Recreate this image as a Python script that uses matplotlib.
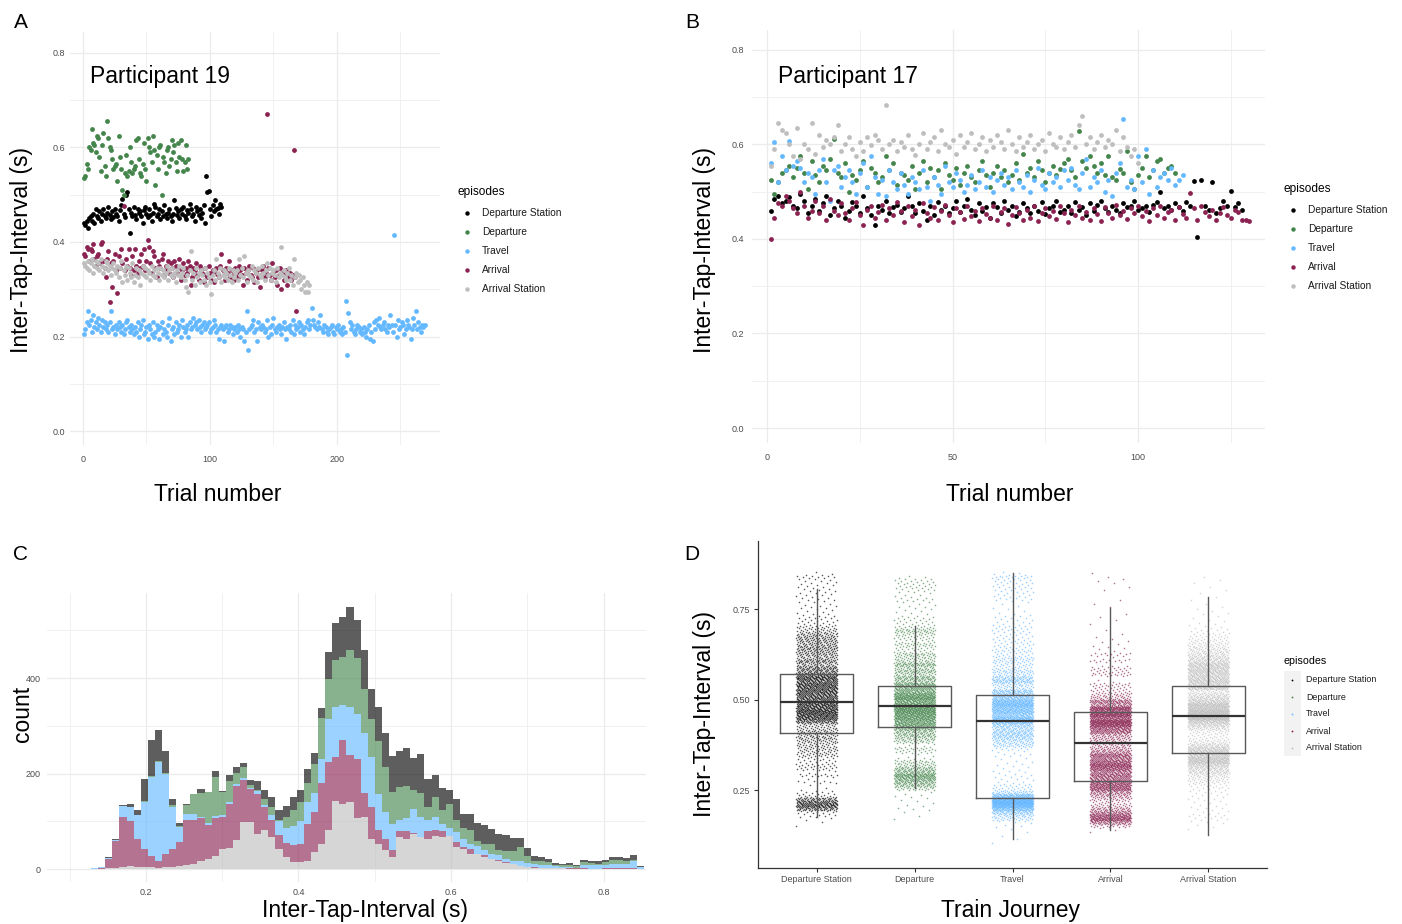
import numpy as np
import matplotlib
matplotlib.use('Agg')
import matplotlib.pyplot as plt
from matplotlib.lines import Line2D
from matplotlib.patches import Rectangle

plt.rcParams['font.family'] = ['Liberation Sans', 'DejaVu Sans']

episodes = ['Departure Station', 'Departure', 'Travel', 'Arrival', 'Arrival Station']
colors = ['#000000', '#43854B', '#63B8FF', '#8B2252', '#BEBEBE']

# ---- panel A: participant 19, inter-tap interval (ms) for trials 1..n
p19_dep_station = [440, 435, 445, 430, 450, 455, 445, 460, 440, 470, 455, 450, 465, 445, 460, 470, 455, 450, 462, 475,
                   458, 448, 466, 452, 470, 460, 455, 445, 468, 478, 490, 460, 452, 500, 505, 470, 420, 462, 455, 475,
                   458, 448, 470, 462, 465, 455, 440, 468, 475, 460, 452, 470, 458, 445, 462, 480, 475, 455, 460, 470,
                   448, 465, 455, 478, 460, 450, 462, 470, 455, 445, 460, 488, 472, 458, 465, 450, 470, 460, 475, 455,
                   448, 468, 462, 480, 470, 455, 460, 445, 475, 465, 458, 470, 450, 462, 478, 440, 540, 505, 508, 470,
                   455, 478, 465, 488, 470, 472, 460, 480, 475]
p19_departure = [535, 540, 565, 555, 600, 595, 640, 610, 605, 590, 625, 620, 580, 550, 605, 630, 560, 540, 655, 620,
                 600, 595, 575, 555, 560, 565, 530, 625, 580, 555, 510, 500, 545, 585, 540, 550, 600, 570, 545, 555,
                 560, 615, 620, 575, 545, 540, 565, 610, 555, 530, 620, 600, 590, 570, 625, 595, 520, 585, 555, 600,
                 605, 500, 580, 570, 545, 595, 600, 560, 575, 615, 590, 605, 570, 550, 610, 580, 615, 575, 550, 570,
                 605, 555, 575]
p19_travel = [205, 215, 230, 255, 225, 235, 210, 245, 220, 230, 215, 240, 225, 210, 235, 220, 230, 215, 225, 210,
              230, 255, 215, 220, 205, 225, 215, 230, 220, 210, 225, 205, 215, 230, 235, 220, 210, 225, 215, 205,
              220, 210, 230, 200, 215, 225, 235, 205, 210, 220, 195, 225, 215, 205, 230, 200, 210, 225, 215, 195,
              220, 230, 205, 215, 210, 200, 225, 240, 190, 215, 220, 205, 230, 210, 215, 225, 200, 235, 220, 210,
              215, 225, 200, 230, 215, 220, 240, 225, 230, 215, 235, 220, 210, 225, 230, 215, 220, 225, 230, 210,
              215, 220, 235, 225, 210, 215, 195, 220, 225, 215, 190, 220, 225, 210, 215, 225, 220, 205, 215, 220,
              210, 225, 215, 200, 220, 215, 190, 210, 255, 172, 215, 220, 225, 235, 210, 215, 190, 230, 220, 215,
              225, 220, 210, 215, 235, 200, 220, 205, 225, 240, 215, 210, 220, 225, 215, 205, 220, 230, 215, 195,
              220, 215, 225, 210, 235, 205, 225, 215, 220, 230, 210, 225, 215, 205, 220, 230, 235, 215, 225, 260,
              235, 225, 220, 215, 230, 220, 245, 215, 210, 225, 220, 210, 205, 215, 220, 225, 210, 205, 220, 215,
              225, 210, 215, 205, 220, 210, 275, 160, 250, 230, 215, 225, 210, 205, 215, 225, 220, 210, 215, 205,
              220, 210, 200, 215, 225, 195, 210, 190, 230, 215, 235, 225, 240, 220, 215, 225, 230, 215, 210, 225,
              220, 245, 225, 210, 415, 225, 200, 235, 215, 220, 230, 225, 205, 215, 235, 225, 220, 195, 215, 240,
              225, 255, 215, 230, 220, 210, 225, 220, 225]
p19_arrival = [375, 370, 390, 385, 360, 385, 380, 395, 365, 350, 370, 375, 355, 395, 400, 360, 345, 325, 365, 380,
               272, 355, 305, 360, 375, 340, 293, 370, 345, 385, 355, 476, 340, 365, 350, 385, 345, 330, 370, 340,
               385, 350, 335, 360, 345, 375, 350, 385, 340, 360, 405, 390, 355, 335, 380, 370, 345, 325, 360, 350,
               345, 365, 375, 330, 350, 340, 360, 335, 355, 345, 325, 360, 350, 335, 345, 365, 320, 340, 355, 330,
               345, 335, 360, 350, 310, 325, 345, 340, 355, 330, 320, 350, 340, 335, 315, 345, 330, 325, 350, 335,
               320, 340, 315, 335, 345, 330, 325, 350, 375, 340, 330, 320, 345, 335, 360, 325, 340, 330, 320, 345,
               335, 325, 350, 340, 330, 310, 345, 335, 320, 340, 350, 330, 325, 345, 315, 335, 340, 325, 305, 330,
               340, 350, 325, 335, 671, 345, 330, 320, 355, 335, 325, 340, 310, 330, 345, 300, 335, 320, 330, 340,
               310, 325, 335, 320, 330, 595, 325, 254]
p19_arr_station = [355, 350, 345, 360, 340, 355, 365, 335, 350, 360, 345, 355, 340, 365, 350, 335, 345, 360, 355, 340,
                   350, 330, 345, 355, 340, 335, 350, 325, 345, 360, 315, 340, 330, 350, 320, 345, 335, 325, 355, 315,
                   330, 345, 325, 340, 310, 335, 350, 330, 345, 325, 340, 335, 320, 350, 330, 340, 325, 345, 335, 320,
                   345, 330, 340, 325, 335, 350, 320, 340, 330, 345, 325, 335, 315, 340, 330, 350, 325, 335, 345, 320,
                   305, 330, 295, 340, 380, 320, 335, 310, 345, 325, 335, 315, 340, 330, 320, 345, 310, 335, 325, 315,
                   290, 330, 340, 320, 365, 335, 325, 345, 315, 330, 340, 325, 335, 320, 345, 330, 315, 340, 325, 335,
                   340, 320, 365, 330, 345, 325, 370, 335, 315, 340, 330, 325, 350, 320, 340, 335, 315, 345, 330, 325,
                   350, 335, 320, 340, 355, 330, 345, 320, 335, 340, 330, 315, 345, 325, 335, 390, 330, 340, 325, 320,
                   335, 345, 320, 330, 310, 365, 325, 335, 315, 330, 320, 300, 325, 310, 295, 315, 295, 310]

# ---- panel B: participant 17
p17_dep_station = [460, 485, 490, 475, 480, 488, 470, 465, 495, 480, 455, 470, 485, 460, 475, 490, 450, 465, 480, 470,
                   445, 460, 478, 470, 455, 490, 465, 450, 430, 470, 462, 480, 455, 468, 472, 458, 465, 490, 470, 455,
                   475, 460, 440, 470, 450, 478, 462, 470, 455, 465, 480, 458, 470, 485, 462, 450, 475, 460, 468, 445,
                   475, 468, 455, 480, 462, 470, 448, 458, 475, 465, 455, 470, 460, 478, 452, 465, 470, 480, 458, 462,
                   470, 455, 478, 462, 468, 450, 475, 460, 472, 480, 465, 458, 470, 462, 455, 475, 468, 470, 480, 462,
                   465, 470, 458, 472, 478, 500, 465, 470, 462, 475, 468, 460, 478, 470, 522, 405, 525, 470, 462, 520,
                   455, 465, 480, 470, 502, 468, 475, 462]
p17_departure = [525, 495, 520, 540, 545, 555, 530, 550, 575, 540, 505, 565, 535, 520, 555, 545, 570, 612, 540, 530,
                 560, 500, 535, 525, 545, 565, 510, 550, 540, 520, 530, 575, 545, 560, 515, 540, 535, 525, 555, 505,
                 540, 565, 520, 550, 530, 545, 505, 560, 535, 525, 550, 515, 540, 555, 530, 520, 545, 565, 535, 510,
                 540, 555, 530, 545, 520, 535, 560, 525, 580, 540, 550, 530, 565, 545, 520, 540, 555, 535, 548, 560,
                 570, 545, 530, 628, 565, 550, 575, 555, 540, 560, 535, 575, 530, 525, 548, 540, 585, 520, 505, 535,
                 550, 575, 530, 545, 565, 570, 540, 550, 555, 540]
p17_travel = [560, 605, 520, 575, 545, 608, 555, 565, 550, 520, 540, 530, 495, 545, 570, 520, 480, 545, 555, 510,
              530, 545, 520, 495, 540, 560, 510, 575, 530, 495, 525, 490, 545, 520, 505, 540, 515, 495, 530, 520,
              505, 545, 510, 480, 530, 515, 495, 555, 520, 510, 540, 525, 500, 515, 535, 505, 520, 545, 510, 530,
              500, 525, 540, 515, 530, 505, 545, 520, 510, 535, 500, 525, 550, 515, 505, 540, 520, 530, 510, 545,
              525, 550, 515, 505, 540, 570, 510, 530, 520, 545, 500, 525, 490, 540, 560, 654, 510, 525, 505, 575,
              520, 590, 495, 545, 510, 530, 540, 525, 550, 515, 525, 535]
p17_arrival = [400, 445, 475, 470, 490, 480, 465, 455, 500, 470, 445, 460, 480, 455, 470, 440, 485, 460, 450, 475,
               455, 440, 465, 478, 450, 430, 462, 470, 445, 458, 472, 440, 465, 450, 478, 460, 435, 470, 448, 462,
               430, 475, 455, 445, 468, 440, 460, 472, 450, 435, 465, 458, 442, 470, 448, 460, 438, 465, 452, 445,
               470, 440, 458, 465, 432, 450, 468, 455, 440, 462, 445, 470, 438, 455, 465, 448, 460, 442, 470, 455,
               435, 462, 450, 470, 445, 458, 440, 465, 452, 438, 468, 455, 445, 472, 450, 460, 442, 465, 455, 470,
               448, 460, 438, 465, 450, 470, 445, 458, 462, 440, 468, 452, 445, 498, 465, 440, 470, 458, 448, 462,
               440, 455, 468, 450, 445, 462, 458, 440, 440, 438]
p17_arr_station = [555, 590, 645, 630, 625, 600, 575, 635, 570, 600, 590, 645, 580, 620, 595, 610, 600, 615, 640, 585,
                   600, 615, 590, 575, 605, 585, 615, 598, 620, 610, 590, 683, 600, 610, 585, 605, 595, 620, 590, 578,
                   600, 625, 590, 605, 615, 585, 630, 600, 595, 610, 580, 620, 595, 605, 625, 590, 600, 615, 585, 610,
                   595, 620, 605, 590, 630, 600, 585, 615, 595, 605, 620, 590, 600, 610, 585, 625, 600, 595, 615, 590,
                   605, 620, 595, 640, 660, 600, 615, 590, 605, 620, 595, 610, 600, 630, 585, 615, 595, 575, 590, 560]

# ---- panel C: histogram counts per bin (all participants)
bin_start = 0.1002
bin_width = 0.0093
hist_dep_station = [0, 0, 0, 0, 0, 1, 1, 2, 7, 10, 46, 76, 65, 45, 12, 7, 2, 1, 7, 1,
                    12, 2, 14, 13, 8, 10, 19, 19, 21, 20, 24, 28, 25, 29, 23, 21, 58, 79, 84, 91,
                    80, 80, 63, 72, 71, 76, 75, 79, 67, 83, 59, 46, 47, 29, 44, 28, 34, 37, 39, 31,
                    35, 35, 29, 20, 17, 9, 8, 7, 5, 3, 5, 3, 5, 5, 5, 5, 5, 5, 5, 10, 2]
hist_departure = [0, 0, 0, 0, 0, 0, 0, 1, 1, 1, 3, 2, 2, 2, 4, 1, 20, 42, 50, 64,
                  81, 48, 44, 23, 24, 6, 2, 13, 17, 3, 24, 33, 40, 41, 61, 87, 82, 97, 101, 118,
                  117, 94, 80, 110, 94, 66, 70, 69, 39, 50, 28, 41, 28, 50, 25, 23, 28, 11, 14, 20,
                  10, 15, 19, 30, 14, 8, 9, 7, 2, 4, 4, 3, 7, 5, 3, 7, 10, 9, 8, 3, 0]
hist_travel = [1, 1, 1, 1, 1, 3, 3, 22, 29, 51, 97, 165, 206, 169, 87, 32, 13, 12, 4, 5,
               5, 4, 3, 3, 3, 2, 5, 4, 11, 29, 30, 40, 48, 45, 40, 50, 91, 105, 72, 102,
               93, 124, 105, 76, 56, 56, 22, 26, 50, 42, 22, 27, 15, 17, 21, 18, 10, 16, 10, 10,
               9, 8, 7, 9, 9, 6, 5, 5, 3, 2, 2, 1, 6, 7, 7, 6, 8, 9, 7, 15, 3]
hist_arrival = [0, 0, 0, 1, 2, 19, 55, 105, 93, 58, 39, 24, 15, 26, 38, 51, 94, 92, 88, 70,
                79, 67, 92, 115, 89, 69, 84, 49, 35, 28, 30, 35, 37, 77, 84, 127, 143, 93, 134, 98,
                123, 50, 66, 29, 25, 14, 13, 16, 2, 0, 16, 12, 13, 0, 11, 3, 11, 1, 4, 1,
                3, 1, 1, 1, 0, 1, 1, 1, 1, 0, 1, 1, 1, 0, 0, 1, 1, 1, 2, 1, 1]
hist_arr_station = [0, 0, 0, 0, 1, 2, 3, 5, 7, 4, 4, 4, 3, 5, 5, 6, 8, 11, 18, 22,
                    28, 42, 45, 60, 98, 99, 74, 81, 67, 43, 25, 15, 15, 18, 36, 53, 81, 142, 137, 140,
                    108, 110, 64, 53, 39, 25, 67, 64, 74, 67, 64, 70, 67, 70, 46, 43, 32, 31, 25, 21,
                    17, 13, 10, 6, 4, 3, 2, 2, 2, 2, 1, 1, 1, 1, 1, 1, 1, 1, 1, 1, 0]

# ---- panel D: boxplot statistics per episode (s)
box_q1 = [0.408, 0.424, 0.228, 0.275, 0.352]
box_med = [0.493, 0.482, 0.441, 0.380, 0.454]
box_q3 = [0.570, 0.537, 0.512, 0.465, 0.537]
box_lo = [0.175, 0.255, 0.115, 0.140, 0.125]
box_hi = [0.805, 0.703, 0.850, 0.752, 0.783]

W, H = 1402, 924
fig = plt.figure(figsize=(W / 100, H / 100), dpi=100)


def rect(l, t, r, b):
    return [l / W, 1 - b / H, (r - l) / W, (b - t) / H]


def ftext(x, y, s, **kw):
    fig.text(x / W, 1 - y / H, s, **kw)


def minimal(ax, xmaj, xmin, ymaj, ymin, xfmt, yfmt, xpad, ypad):
    for s in ax.spines.values():
        s.set_visible(False)
    ax.set_xticks(xmaj)
    ax.set_xticks(xmin, minor=True)
    ax.set_yticks(ymaj)
    ax.set_yticks(ymin, minor=True)
    ax.set_xticklabels([xfmt(v) for v in xmaj])
    ax.set_yticklabels([yfmt(v) for v in ymaj])
    ax.grid(which='major', color='#EBEBEB', lw=0.9)
    ax.grid(which='minor', color='#F0F0F0', lw=0.7)
    ax.tick_params(which='both', length=0, labelsize=6.5, labelcolor='#4D4D4D')
    ax.tick_params(axis='x', pad=xpad)
    ax.tick_params(axis='y', pad=ypad)
    ax.set_axisbelow(True)


def scatter_legend(xt, yt, xm, xl, ys, ms, tsize, lsize):
    ftext(xt, yt, 'episodes', fontsize=tsize, va='center', ha='left')
    for ep, c, y in zip(episodes, colors, ys):
        fig.add_artist(Line2D([xm / W], [1 - y / H], marker='o', ms=ms, mew=0, color=c,
                              linestyle='none', transform=fig.transFigure))
        ftext(xl, y, ep, fontsize=lsize, va='center', ha='left', color='#1A1A1A')


# ---------------- A
axa = fig.add_axes(rect(70, 32, 440, 445))
seriesA = [p19_dep_station, p19_departure, p19_travel, p19_arrival, p19_arr_station]
for vals, c in zip(seriesA, colors):
    v = np.array(vals) / 1000
    axa.scatter(np.arange(1, len(v) + 1), v, s=12, color=c, linewidths=0, zorder=3)
axa.set_xlim(-10.2, 281.1)
axa.set_ylim(-0.0296, 0.8444)
minimal(axa, [0, 100, 200], [50, 150, 250], [0, 0.2, 0.4, 0.6, 0.8], [0.1, 0.3, 0.5, 0.7],
        lambda v: '%d' % v, lambda v: '%.1f' % v, 7, 3.6)
ftext(90, 77, 'Participant 19', fontsize=16.5, va='center', ha='left')
ftext(218, 494, 'Trial number', fontsize=16.5, va='center', ha='center')
ftext(22, 250, 'Inter-Tap-Interval (s)', fontsize=16.5, va='center', ha='center', rotation=90)
ftext(21, 22, 'A', fontsize=15, va='center', ha='center')
scatter_legend(458, 192, 467, 482, [213, 232, 251, 270, 289], 3.2, 8.6, 7.3)

# ---------------- B
axb = fig.add_axes(rect(752, 30, 1265, 443))
seriesB = [p17_dep_station, p17_departure, p17_travel, p17_arrival, p17_arr_station]
for vals, c in zip(seriesB, colors):
    v = np.array(vals) / 1000
    axb.scatter(np.arange(1, len(v) + 1), v, s=12, color=c, linewidths=0, zorder=3)
axb.set_xlim(-4.04, 134.2)
axb.set_ylim(-0.0317, 0.842)
minimal(axb, [0, 50, 100], [25, 75, 125], [0, 0.2, 0.4, 0.6, 0.8], [0.1, 0.3, 0.5, 0.7],
        lambda v: '%d' % v, lambda v: '%.1f' % v, 7, 5.5)
ftext(778, 77, 'Participant 17', fontsize=16.5, va='center', ha='left')
ftext(1010, 494, 'Trial number', fontsize=16.5, va='center', ha='center')
ftext(705, 250, 'Inter-Tap-Interval (s)', fontsize=16.5, va='center', ha='center', rotation=90)
ftext(692, 22, 'B', fontsize=15, va='center', ha='center')
scatter_legend(1284, 189, 1293, 1308, [210, 229, 248, 267, 286], 3.2, 8.6, 7.3)

# ---------------- C
axc = fig.add_axes(rect(47, 593, 646, 882))
hists = [hist_dep_station, hist_departure, hist_travel, hist_arrival, hist_arr_station]
edges = bin_start + bin_width * np.arange(len(hist_arr_station) + 1)
base = np.zeros(len(hist_arr_station))
for k in [4, 3, 2, 1, 0]:
    top = base + np.array(hists[k])
    axc.stairs(top, edges, baseline=base, fill=True, color=colors[k], alpha=0.63, lw=0, zorder=3)
    base = top
axc.set_xlim(0.0703, 0.8557)
axc.set_ylim(-27, 578)
minimal(axc, [0.2, 0.4, 0.6, 0.8], [0.1, 0.3, 0.5, 0.7], [0, 200, 400], [100, 300, 500],
        lambda v: '%.1f' % v, lambda v: '%d' % v, 4.5, 4.3)
ftext(365, 911, 'Inter-Tap-Interval (s)', fontsize=16.5, va='center', ha='center')
ftext(22, 714, 'count', fontsize=16.5, va='center', ha='center', rotation=90)
ftext(21, 555, 'C', fontsize=15, va='center', ha='center')

# ---------------- D
axd = fig.add_axes(rect(758, 541, 1267, 868))
gold = 0.6180339887
for g, counts in enumerate(hists):
    ys = []
    for i, n in enumerate(counts):
        if n:
            lo = bin_start + i * bin_width
            ys.extend(lo + (np.arange(n) + 0.5) / n * bin_width)
    ys = np.array(ys)
    j = np.arange(len(ys))
    xs = g + 1 + ((j * gold) % 1 - 0.5) * 0.42
    axd.scatter(xs, ys, s=1.3, color=colors[g], alpha=0.65, linewidths=0, zorder=2)
stats = [dict(q1=box_q1[k], med=box_med[k], q3=box_q3[k], whislo=box_lo[k], whishi=box_hi[k], fliers=[])
         for k in range(5)]
axd.bxp(stats, positions=[1, 2, 3, 4, 5], widths=0.75, showfliers=False, showcaps=False,
        boxprops=dict(color='#595959', lw=1.0), whiskerprops=dict(color='#595959', lw=1.0),
        medianprops=dict(color='#333333', lw=1.6), zorder=4)
axd.set_xlim(0.4, 5.6)
axd.set_ylim(0.0345, 0.938)
axd.set_xticks([1, 2, 3, 4, 5])
axd.set_xticklabels(episodes)
axd.set_yticks([0.25, 0.5, 0.75])
axd.set_yticklabels(['0.25', '0.50', '0.75'])
for s in ['top', 'right']:
    axd.spines[s].set_visible(False)
for s in ['left', 'bottom']:
    axd.spines[s].set_color('#333333')
    axd.spines[s].set_linewidth(0.9)
axd.tick_params(length=3, width=0.8, color='#333333', labelsize=6.5, labelcolor='#4D4D4D')
axd.tick_params(axis='x', pad=1.8)
axd.tick_params(axis='y', pad=2.9)
ftext(1010, 911, 'Train Journey', fontsize=16.5, va='center', ha='center')
ftext(705, 714, 'Inter-Tap-Interval (s)', fontsize=16.5, va='center', ha='center', rotation=90)
ftext(692, 555, 'D', fontsize=15, va='center', ha='center')

# legend D with grey key background
fig.add_artist(Rectangle((1284 / W, 1 - 756 / H), 17 / W, 85 / H, transform=fig.transFigure,
                         facecolor='#F2F2F2', edgecolor='none'))
ftext(1284, 661, 'episodes', fontsize=7.7, va='center', ha='left')
for ep, c, y in zip(episodes, colors, [680, 697, 714, 731, 748]):
    fig.add_artist(Line2D([1292 / W], [1 - y / H], marker='o', ms=1.3, mew=0, color=c,
                          linestyle='none', transform=fig.transFigure))
    ftext(1306, y, ep, fontsize=6.4, va='center', ha='left', color='#1A1A1A')

fig.savefig('out.png', dpi=100)
